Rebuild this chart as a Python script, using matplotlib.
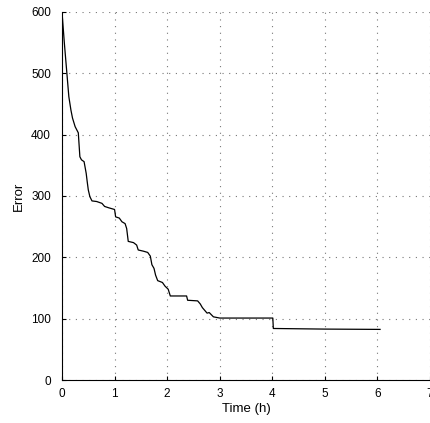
import matplotlib
matplotlib.use("Agg")
import matplotlib.pyplot as plt

plt.rcParams['font.family'] = ['Liberation Sans', 'DejaVu Sans']

time_h = [0.0, 0.045, 0.09, 0.13, 0.17, 0.2, 0.25, 0.31, 0.34, 0.37, 0.42, 0.46, 0.48, 0.5, 0.53,
          0.57, 0.66, 0.76, 0.81, 0.88, 1.0, 1.02, 1.09, 1.14, 1.2, 1.23, 1.26, 1.36, 1.42, 1.45,
          1.55, 1.63, 1.68, 1.71, 1.75, 1.78, 1.82, 1.91, 1.96, 2.02, 2.06, 2.37, 2.39, 2.58,
          2.63, 2.67, 2.71, 2.76, 2.8, 2.88, 3.0, 4.01, 4.02, 5.0, 6.05]
error = [600, 549, 503, 462, 440, 427, 413, 403, 364, 359, 356, 337, 323, 310, 299,
         292, 291, 288, 283, 281, 278, 266, 264, 258, 255, 247, 226, 224, 220, 212,
         210, 208, 202, 188, 182, 171, 162, 159, 153, 148, 137, 137, 130, 129,
         124, 118, 114, 109, 110, 103, 101, 101, 84, 83, 82.5]

x_ticks = [0, 1, 2, 3, 4, 5, 6, 7]
y_ticks = [0, 100, 200, 300, 400, 500, 600]

fig = plt.figure(figsize=(4.30, 4.23), dpi=100)
ax = fig.add_axes([62/430, 1-380/423, (430-62)/430, (380-12)/423])
ax.plot(time_h, error, color="black", linewidth=0.9)
ax.set_xlim(0, 7)
ax.set_ylim(0, 600)
ax.set_xticks(x_ticks)
ax.set_yticks(y_ticks)
ax.grid(True, linestyle=(0, (1, 5)), color="#777777", linewidth=0.8)
for s in ["top", "right"]:
    ax.spines[s].set_visible(False)
ax.spines["left"].set_linewidth(0.8)
ax.spines["bottom"].set_linewidth(0.8)
ax.tick_params(direction="in", length=3, labelsize=8.5)
ax.tick_params(axis="x", pad=6)
ax.tick_params(axis="y", pad=8)
ax.set_xlabel("Time (h)", fontsize=9.5, labelpad=2)
ax.set_ylabel("Error", fontsize=9.5)
ax.yaxis.set_label_coords(-0.1, 0.5)
fig.savefig("out.png", dpi=100)
